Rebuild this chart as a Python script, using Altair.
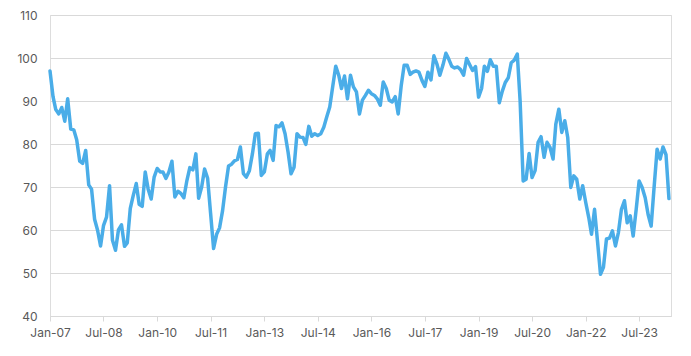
import altair as alt
import pandas as pd

# Monthly values, Jan-2007 .. May-2024
values = [
    97, 91, 88, 87, 88.5, 85.3, 90.5, 83.5, 83.3, 81, 76, 75.5,
    78.5, 70.5, 69.5, 62.5, 60, 56.3, 61, 63, 70.3, 57.6, 55.3, 60,
    61.2, 56.2, 57, 65, 68, 70.8, 66, 65.5, 73.5, 69.5, 67.2, 72.3,
    74.3, 73.5, 73.5, 72, 73.5, 76, 67.7, 69, 68.5, 67.5, 71.5, 74.5,
    74, 77.7, 67.4, 70, 74.2, 72, 64, 55.7, 59, 60.5, 64.5, 70,
    74.9, 75.3, 76.1, 76.4, 79.3, 73.1, 72.3, 73.8, 77.7, 82.4, 82.5, 72.7,
    73.5, 77.7, 78.5, 76.2, 84.3, 84, 84.9, 82.4, 78.1, 73.1, 74.6, 82.4,
    81.6, 81.5, 79.9, 84.1, 81.8, 82.4, 82, 82.4, 83.9, 86.3, 88.6, 93.3,
    98.1, 96, 92.9, 95.8, 90.5, 96, 93.3, 92.1, 87, 90.2, 91.3, 92.5,
    91.7, 91.3, 90.5, 89, 94.4, 92.9, 90.2, 89.8, 91, 87, 93.6, 98.3,
    98.3, 96.2, 96.7, 97, 96.7, 94.8, 93.4, 96.7, 94.9, 100.5, 98.6, 96,
    98.3, 101.1, 99.8, 98.1, 97.7, 97.9, 97.3, 96, 99.9, 98.5, 97.1, 98,
    90.9, 92.9, 98.1, 96.9, 99.6, 98.1, 98.1, 89.6, 92.3, 94.3, 95.4, 98.9,
    99.5, 100.9, 90, 71.4, 71.8, 77.8, 72.2, 73.8, 80.4, 81.7, 76.9, 80.4,
    79.2, 76.5, 84.6, 88.1, 82.7, 85.4, 81.5, 69.9, 72.6, 71.8, 67.2, 70.3,
    66.4, 62.9, 59, 64.8, 57.5, 49.7, 51.3, 57.9, 58.1, 59.8, 56.3, 59.4,
    64.8, 66.8, 61.7, 63.3, 58.6, 64.8, 71.4, 69.9, 67.5, 63.6, 60.9, 69.9,
    78.8, 76.5, 79.3, 77.5, 67.3,
]
start_month = "2007-01-01"
tick_labels = ["Jan-07", "Jul-08", "Jan-10", "Jul-11", "Jan-13", "Jul-14",
               "Jan-16", "Jul-17", "Jan-19", "Jul-20", "Jan-22", "Jul-23"]
y_ticks = [40, 50, 60, 70, 80, 90, 100, 110]

dates = pd.date_range(start_month, periods=len(values), freq="MS")
df = pd.DataFrame({"date": dates, "value": values})

tick_dates = [pd.to_datetime(t, format="%b-%y") for t in tick_labels]
tick_vals = [alt.DateTime(year=d.year, month=d.month, date=1) for d in tick_dates]

grid_col = "#D9D9D9"
lab_col = "#595959"
font = "Inter"

chart = alt.Chart(df).mark_line(
    color="#4AADE8", strokeWidth=3.5, strokeJoin="round", strokeCap="round", clip=False
).encode(
    x=alt.X(
        "date:T",
        scale=alt.Scale(domain=[alt.DateTime(year=2007, month=1, date=1),
                                alt.DateTime(year=2024, month=5, date=22)]),
        axis=alt.Axis(
            values=tick_vals, format="%b-%y", title=None, grid=False,
            domainColor=grid_col, domainWidth=1, tickColor=grid_col, tickSize=5,
            labelColor=lab_col, labelFontSize=12, labelFont=font, labelPadding=6,
            labelFlush=False, labelOverlap=False,
        ),
    ),
    y=alt.Y(
        "value:Q",
        scale=alt.Scale(domain=[40, 110], nice=False, zero=False),
        axis=alt.Axis(
            values=y_ticks, title=None, domain=False, ticks=False,
            gridColor=grid_col, gridWidth=1,
            labelColor=lab_col, labelFontSize=12, labelFont=font, labelPadding=13,
        ),
    ),
).properties(
    width=621, height=301,
    autosize=alt.AutoSizeParams(type="none"),
    padding={"left": 50, "top": 15, "right": 20, "bottom": 40},
).configure_view(stroke=None).configure(background="white")

chart.save("out.html", embed_options={"renderer": "svg", "actions": False})
